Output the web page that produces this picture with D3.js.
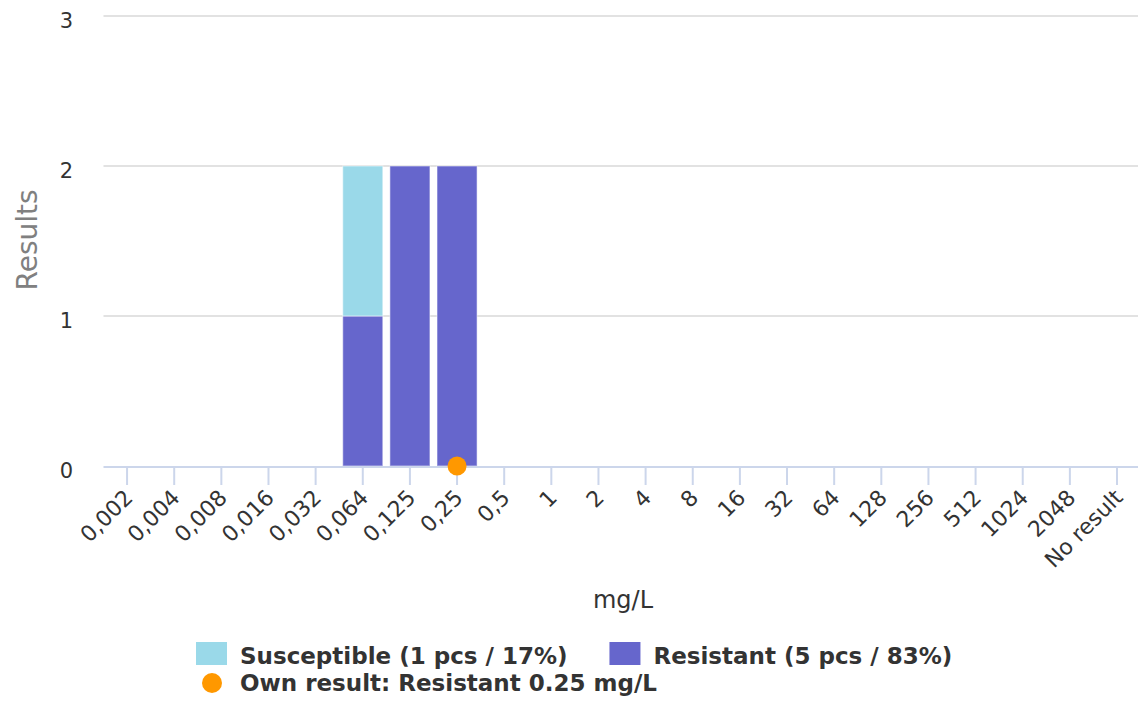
<!DOCTYPE html>
<html><head><meta charset="utf-8">
<script src="https://cdn.jsdelivr.net/npm/d3@7"></script>
<style>
html,body{margin:0;padding:0;background:#fff;}
svg{display:block;font-family:"DejaVu Sans",sans-serif;}
</style></head>
<body>
<svg id="chart" width="1138" height="706"></svg>
<script>
const categories = ["0,002","0,004","0,008","0,016","0,032","0,064","0,125","0,25","0,5","1","2","4","8","16","32","64","128","256","512","1024","2048","No result"];
const resistant   = [0,0,0,0,0,1,2,2,0,0,0,0,0,0,0,0,0,0,0,0,0,0];
const susceptible = [0,0,0,0,0,1,0,0,0,0,0,0,0,0,0,0,0,0,0,0,0,0];
const yTicks = [0,1,2,3];
const ownResult = {category:"0,25", value:0};
const legendItems = [
  {label:"Susceptible (1 pcs / 17%)", color:"#9ad9e9", shape:"rect"},
  {label:"Resistant (5 pcs / 83%)", color:"#6666cc", shape:"rect"},
  {label:"Own result: Resistant 0.25 mg/L", color:"#ff9800", shape:"circle"}
];
const colors = {Resistant:"#6666cc", Susceptible:"#9ad9e9"};

const svg = d3.select("#chart");
const plotLeft = 103.5, step = 47.14, plotTop = 16, plotBottom = 466;
const x = d3.scaleBand().domain(categories).range([plotLeft, plotLeft + step*categories.length]).paddingInner(0.15).paddingOuter(0.075);
const y = d3.scaleLinear().domain([0,3]).range([plotBottom, plotTop]);

// gridlines
svg.append("g").selectAll("line").data(yTicks.filter(d=>d>0)).join("line")
  .attr("x1", plotLeft).attr("x2", 1138)
  .attr("y1", d=>y(d)).attr("y2", d=>y(d))
  .attr("stroke", "#e2e2e2").attr("stroke-width", 2);

// y labels
svg.append("g").selectAll("text").data(yTicks).join("text")
  .attr("x", 73).attr("y", d=>y(d)+12)
  .attr("text-anchor","end").attr("font-size", 21).attr("fill","#333")
  .text(d=>d);

// y title
svg.append("text").attr("transform","translate(37,240) rotate(-90)")
  .attr("text-anchor","middle").attr("font-size",28).attr("fill","#808080").text("Results");

// stacked bars
const rows = categories.map((c,i)=>({cat:c, Resistant:resistant[i], Susceptible:susceptible[i]}));
const stack = d3.stack().keys(["Resistant","Susceptible"])(rows);
svg.append("g").selectAll("g").data(stack).join("g")
  .attr("fill", d=>colors[d.key])
  .selectAll("rect").data(d=>d.filter(p=>p[1]-p[0]>0)).join("rect")
  .attr("x", d=>x(d.data.cat)).attr("width", x.bandwidth())
  .attr("y", d=>y(d[1])).attr("height", d=>y(d[0])-y(d[1]))
  .attr("stroke","#ffffff").attr("stroke-opacity",0.45).attr("stroke-width",1.2);

// x axis line and ticks
const cx = c => x(c) + x.bandwidth()/2;
svg.append("line").attr("x1", plotLeft).attr("x2", 1138).attr("y1", plotBottom+1).attr("y2", plotBottom+1)
  .attr("stroke","#ccd6eb").attr("stroke-width",2);
svg.append("g").selectAll("line").data(categories).join("line")
  .attr("x1", d=>cx(d)).attr("x2", d=>cx(d)).attr("y1", plotBottom+1).attr("y2", plotBottom+19)
  .attr("stroke","#ccd6eb").attr("stroke-width",2);
svg.append("g").selectAll("text").data(categories).join("text")
  .attr("transform", d=>`translate(${cx(d)+7},${plotBottom+33}) rotate(-45)`)
  .attr("text-anchor","end").attr("font-size",22).attr("fill","#333")
  .text(d=>d);

// x title
svg.append("text").attr("x", 623).attr("y", 608).attr("text-anchor","middle")
  .attr("font-size",24).attr("fill","#333").text("mg/L");

// own result dot
svg.append("circle").attr("cx", cx(ownResult.category)).attr("cy", y(ownResult.value)).attr("r", 9.5)
  .attr("fill", "#ff9800");

// legend
const lg = svg.append("g").attr("font-size",23).attr("font-weight","bold").attr("fill","#333");
let lx = 196;
legendItems.forEach((it,i)=>{
  const row = it.shape==="circle" ? 1 : 0;
  const baseY = row===0 ? 664 : 691;
  const sx = row===0 ? lx : 196;
  if(it.shape==="rect"){
    lg.append("rect").attr("x", sx).attr("y", 642).attr("width",31).attr("height",23).attr("fill", it.color);
  } else {
    lg.append("circle").attr("cx", sx+16).attr("cy", 683).attr("r", 10).attr("fill", it.color);
  }
  const t = lg.append("text").attr("x", sx+44).attr("y", baseY).text(it.label);
  if(row===0){ lx = sx + 44 + t.node().getComputedTextLength() + 42; }
});
</script>
</body></html>
